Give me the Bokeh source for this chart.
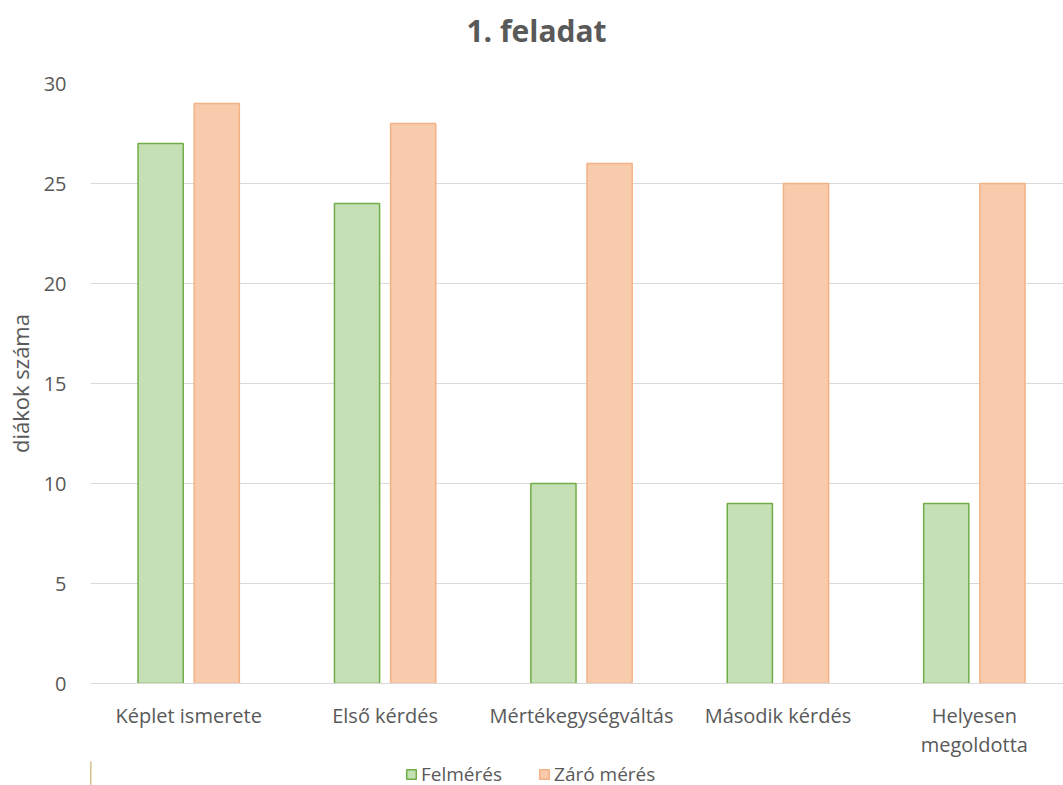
from bokeh.plotting import figure
from bokeh.models import Range1d, FixedTicker, Legend, LegendItem, ColumnDataSource, Label
from bokeh.layouts import column
from bokeh.transform import dodge
from bokeh.embed import file_html
from bokeh.resources import INLINE

title_text = "1. feladat"
categories = ["Képlet ismerete", "Első kérdés", "Mértékegységváltás", "Második kérdés", "Helyesen\nmegoldotta"]
felmeres = [27, 24, 10, 9, 9]
zaro = [29, 28, 26, 25, 25]
series_names = ["Felmérés", "Záró mérés"]
y_ticks = [0, 5, 10, 15, 20, 25, 30]

FONT = "Open Sans"
GREY = "#595959"
GREEN_FILL, GREEN_LINE = "#C5E0B4", "#70AD47"
ORANGE_FILL, ORANGE_LINE = "#F8CBAD", "#F4B183"

# ---- title strip (frame aligned with the chart frame: page x 90..1063) ----
tf = figure(frame_width=973, frame_height=69, output_backend="svg", toolbar_location=None,
            x_axis_type=None, y_axis_type=None,
            min_border_left=90, min_border_right=0, min_border_top=0, min_border_bottom=0,
            x_range=Range1d(90, 1063), y_range=Range1d(0, 69))
tf.outline_line_color = None
tf.xgrid.visible = False
tf.ygrid.visible = False
tf.add_layout(Label(x=536, y=39, text=title_text, text_align="center", text_baseline="middle",
                    text_font=FONT, text_font_size="30px", text_font_style="bold",
                    text_color=GREY))

# ---- main chart ----
idx = list(range(len(categories)))
src = ColumnDataSource(dict(x=idx, f=felmeres, z=zaro))

p = figure(frame_width=973, frame_height=600, output_backend="svg", toolbar_location=None,
           x_range=Range1d(-0.5, 4.454), y_range=Range1d(0, 30),
           min_border_left=90, min_border_right=0, min_border_top=14, min_border_bottom=75)
p.outline_line_color = None
p.background_fill_color = "white"
p.border_fill_color = "white"

r1 = p.vbar(x=dodge("x", -0.143), top="f", width=0.23, source=src,
            fill_color=GREEN_FILL, line_color=GREEN_LINE, line_width=1.5)
r2 = p.vbar(x=dodge("x", 0.143), top="z", width=0.23, source=src,
            fill_color=ORANGE_FILL, line_color=ORANGE_LINE, line_width=1.5)

p.xaxis.ticker = FixedTicker(ticks=idx)
p.xaxis.major_label_overrides = {i: c for i, c in enumerate(categories)}
p.xaxis.major_tick_line_color = None
p.xaxis.minor_tick_line_color = None
p.xaxis.axis_line_color = "#D9D9D9"
p.xaxis.major_label_text_font = FONT
p.xaxis.major_label_text_font_size = "20px"
p.xaxis.major_label_text_color = GREY
p.xaxis.major_label_text_line_height = 1.1
p.xaxis.major_label_standoff = 12

p.yaxis.ticker = FixedTicker(ticks=y_ticks)
p.yaxis.axis_line_color = None
p.yaxis.major_tick_line_color = None
p.yaxis.minor_tick_line_color = None
p.yaxis.major_label_text_font = FONT
p.yaxis.major_label_text_font_size = "20px"
p.yaxis.major_label_text_color = GREY
p.yaxis.major_label_standoff = 18
p.yaxis.axis_label = "diákok száma"
p.yaxis.axis_label_text_font = FONT
p.yaxis.axis_label_text_font_size = "22px"
p.yaxis.axis_label_text_font_style = "normal"
p.yaxis.axis_label_text_color = GREY
p.yaxis.axis_label_standoff = 6

p.xgrid.grid_line_color = None
p.ygrid.grid_line_color = "#D9D9D9"
p.ygrid.grid_line_width = 1

# ---- legend strip (same frame alignment) ----
lf = figure(frame_width=973, frame_height=27, output_backend="svg", toolbar_location=None,
            x_axis_type=None, y_axis_type=None,
            min_border_left=90, min_border_right=0, min_border_top=0, min_border_bottom=0,
            x_range=Range1d(0, 1), y_range=Range1d(0, 1))
lf.outline_line_color = None
lf.xgrid.visible = False
lf.ygrid.visible = False
# swatch sources sit outside the strip's range, so only the legend swatches show
swatch = ColumnDataSource(dict(x=[-5], top=[1]))
l1 = lf.vbar(x="x", top="top", width=0.1, source=swatch,
             fill_color=GREEN_FILL, line_color=GREEN_LINE, line_width=1.5)
l2 = lf.vbar(x="x", top="top", width=0.1, source=swatch,
             fill_color=ORANGE_FILL, line_color=ORANGE_LINE, line_width=1.5)
legend = Legend(items=[LegendItem(label=series_names[0], renderers=[l1], index=0),
                       LegendItem(label=series_names[1], renderers=[l2], index=0)],
                orientation="horizontal", location=(315, 1),
                label_text_font=FONT, label_text_font_size="19px", label_text_color=GREY,
                glyph_width=12, glyph_height=12, spacing=36, padding=0, margin=0,
                label_height=20, border_line_color=None, background_fill_alpha=0,
                label_standoff=4)
lf.add_layout(legend, "center")

layout = column(tf, p, lf, spacing=0)
open("out.html", "w").write(file_html(layout, INLINE))
